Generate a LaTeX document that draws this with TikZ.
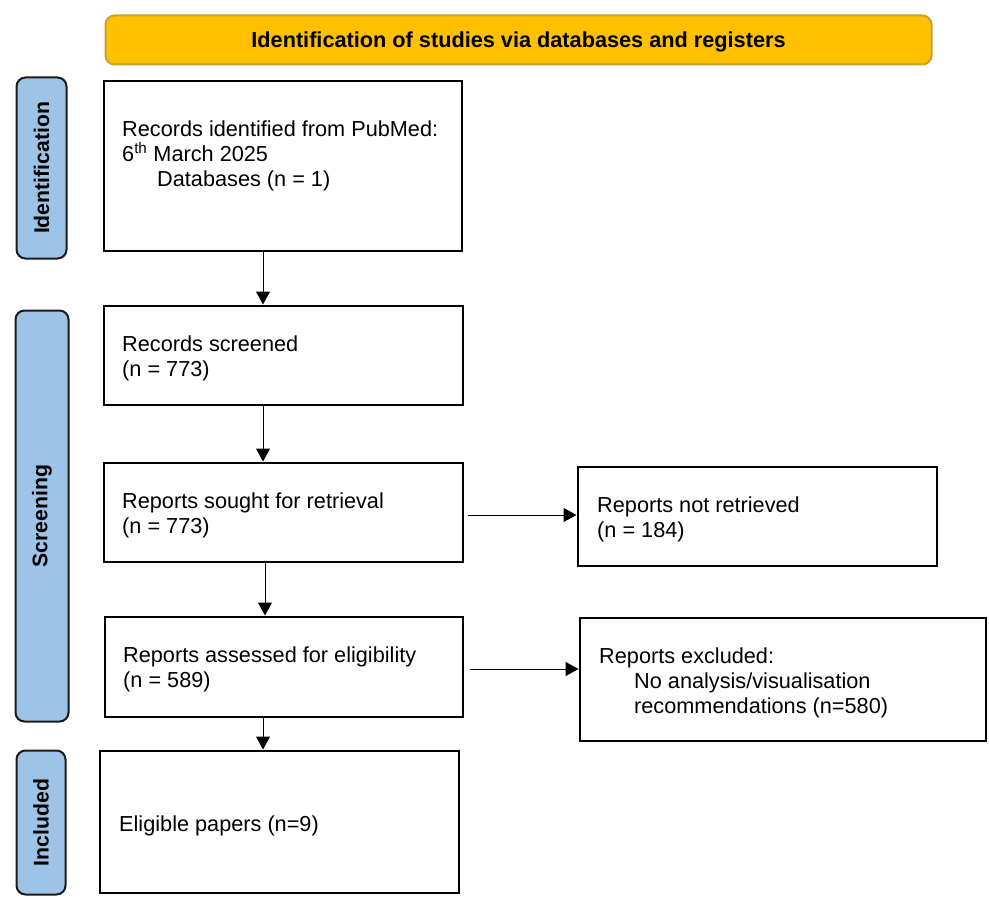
\documentclass[tikz,border=0pt]{standalone}
\usepackage{fontspec}
\setmainfont{Liberation Sans}
\usetikzlibrary{arrows.meta}
\definecolor{hdrfill}{HTML}{FFC000}
\definecolor{hdrdraw}{HTML}{C9A227}
\definecolor{sidefill}{HTML}{9DC3E6}
\definecolor{sidedraw}{HTML}{1A1A1A}
\begin{document}
\begin{tikzpicture}[x=1pt,y=-1pt,
  box/.style={draw=black, line width=2pt, fill=white, inner sep=0pt},
  side/.style={draw=sidedraw, fill=sidefill, line width=2pt, rounded corners=9pt, inner sep=0pt, font=\fontsize{21.2}{25}\selectfont\bfseries},
  hdr/.style={draw=hdrdraw, fill=hdrfill, line width=2pt, rounded corners=9pt, inner sep=0pt},
  hdrtxt/.style={anchor=base, inner sep=0pt, font=\fontsize{21.7}{25}\selectfont\bfseries},
  txt/.style={anchor=base west, inner sep=0pt, font=\fontsize{21.7}{25}\selectfont},
  arr/.style={line width=1pt, -{Triangle[width=14pt,length=13pt]}},
]
\useasboundingbox (0,0) rectangle (989,899);

% header
\node[hdr, minimum width=826pt, minimum height=49pt] (h) at (518.5,40) {};
\node[hdrtxt] (ht) at (518.5,48) {Identification of studies via databases and registers};

% side labels
\node[side, rotate=90, minimum width=181pt, minimum height=50pt] (s1) at (41.5,168) {Identification};
\node[side, rotate=90, minimum width=411pt, minimum height=53pt] (s2) at (42,516) {Screening};
\node[side, rotate=90, minimum width=144pt, minimum height=49pt] (s3) at (41,822.5) {Included};

% boxes
\node[box, minimum width=358pt, minimum height=169pt] (b1) at (282.5,166) {};
\node[box, minimum width=359pt, minimum height=99pt] (b2) at (283,355) {};
\node[box, minimum width=359pt, minimum height=99pt] (b3) at (283,512) {};
\node[box, minimum width=358pt, minimum height=100pt] (b4) at (283.5,666.5) {};
\node[box, minimum width=359pt, minimum height=142pt] (b6) at (279,821.5) {};
\node[box, minimum width=359pt, minimum height=99pt] (b5) at (757,516) {};
\node[box, minimum width=406pt, minimum height=123pt] (b7) at (782.5,679) {};

% texts
\node[txt] (t1a) at (122,136) {Records identified from PubMed:};
\node[txt] (t1b) at (122,161) {6\textsuperscript{th} March 2025};
\node[txt] (t1c) at (157,186) {Databases (n = 1)};
\node[txt] (t2a) at (122,351) {Records screened};
\node[txt] (t2b) at (122,376) {(n = 773)};
\node[txt] (t3a) at (122,508) {Reports sought for retrieval};
\node[txt] (t3b) at (122,533) {(n = 773)};
\node[txt] (t4a) at (123,662) {Reports assessed for eligibility};
\node[txt] (t4b) at (123,687) {(n = 589)};
\node[txt] (t5a) at (597,512) {Reports not retrieved};
\node[txt] (t5b) at (597,537) {(n = 184)};
\node[txt] (t7a) at (599,663) {Reports excluded:};
\node[txt] (t7b) at (634,688) {No analysis/visualisation};
\node[txt] (t7c) at (634,713) {recommendations (n=580)};
\node[txt] (t6a) at (119,831) {Eligible papers (n=9)};

% connectors
\coordinate (xa) at (263,0);
\coordinate (xb) at (265,0);
\coordinate (ya) at (0,515);
\coordinate (yb) at (0,669);
\draw[arr] (b1.south -| xa) -- (b2.north -| xa);
\draw[arr] (b2.south -| xa) -- (b3.north -| xa);
\draw[arr] (b3.south -| xb) -- (b4.north -| xb);
\draw[arr] (b4.south -| xa) -- (b6.north -| xa);
\draw[arr] ([xshift=4pt]b3.east |- ya) -- (b5.west |- ya);
\draw[arr] ([xshift=6pt]b4.east |- yb) -- (b7.west |- yb);
\end{tikzpicture}
\end{document}
